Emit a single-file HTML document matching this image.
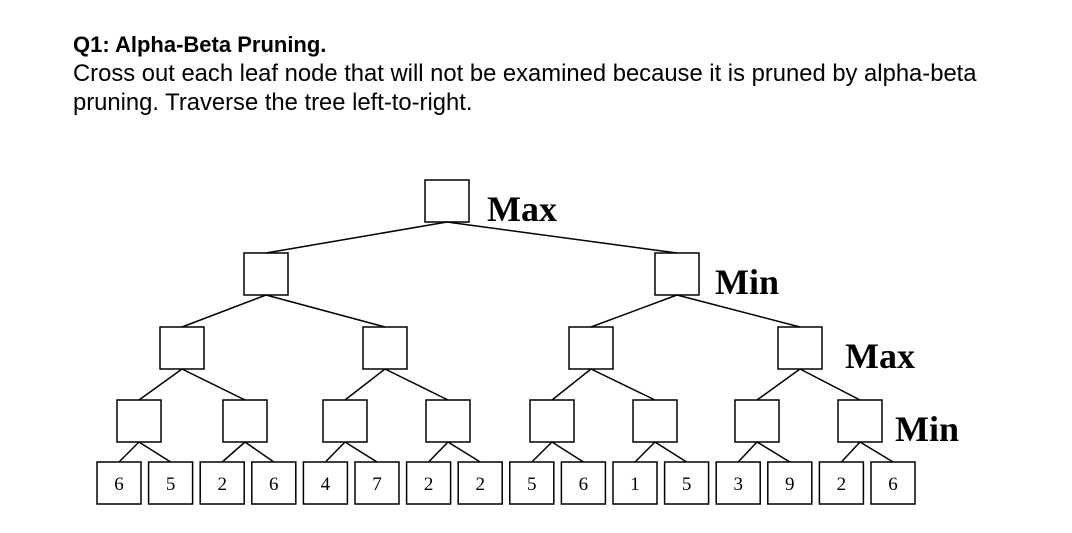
<!DOCTYPE html>
<html><head><meta charset="utf-8"><style>
html,body{margin:0;padding:0;background:#fff;width:1072px;height:533px;overflow:hidden}
.t{position:absolute;left:73px;font-family:"Liberation Sans",sans-serif;font-size:23.8px;color:#000;line-height:29px;white-space:nowrap}
</style></head><body>
<div class="t" style="top:30px;font-weight:bold;font-size:22px">Q1: Alpha-Beta Pruning.</div>
<div class="t" style="top:59px">Cross out each leaf node that will not be examined because it is pruned by alpha-beta<br>pruning. Traverse the tree left-to-right.</div>
<svg width="1072" height="533" style="position:absolute;left:0;top:0" font-family="Liberation Serif,serif">
<g stroke="#000" stroke-width="1.5" fill="none" id="g"></g>
<g id="tx"></g>
<text x="487" y="221" font-size="36" font-weight="bold">Max</text>
<text x="715" y="294" font-size="36" font-weight="bold">Min</text>
<text x="845" y="368" font-size="36" font-weight="bold">Max</text>
<text x="895" y="441" font-size="36" font-weight="bold">Min</text>
</svg>
<script>
var g=document.getElementById('g'),tx=document.getElementById('tx'),s='',t='';
var vals=[6,5,2,6,4,7,2,2,5,6,1,5,3,9,2,6];
var L4=[];
for(var i=0;i<16;i++)L4.push(119+i*51.6);
var L3=[139,245,345,448,552,655,757,860];
var L2=[182,385,591,800];
var L1=[266,677];
var R=[447];
var lv=[[R,180],[L1,253],[L2,327],[L3,400],[L4,462]];
for(var k=0;k<5;k++){var xs=lv[k][0],y=lv[k][1];
 for(i=0;i<xs.length;i++){
  s+='<rect x="'+(xs[i]-22)+'" y="'+y+'" width="44" height="42"/>';
  if(k<4){var ch=lv[k+1][0],cy=lv[k+1][1];
   s+='<line x1="'+xs[i]+'" y1="'+(y+42)+'" x2="'+ch[2*i]+'" y2="'+cy+'"/>';
   s+='<line x1="'+xs[i]+'" y1="'+(y+42)+'" x2="'+ch[2*i+1]+'" y2="'+cy+'"/>';}
  if(k==4)t+='<text x="'+xs[i]+'" y="490" font-size="19" text-anchor="middle">'+vals[i]+'</text>';
 }}
g.innerHTML=s;tx.innerHTML=t;
</script>
</body></html>
